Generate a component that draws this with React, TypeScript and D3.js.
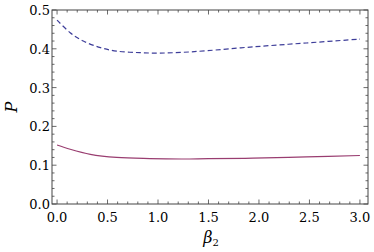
import React from 'react';
import * as d3 from 'd3';

// data
const beta = [0, 0.13, 0.26, 0.43, 0.59, 0.82, 1.02, 1.25, 1.48, 1.94, 2.47, 3.0];
const dashedP = [0.474, 0.4415, 0.42, 0.403, 0.394, 0.39, 0.389, 0.391, 0.395, 0.405, 0.415, 0.425];
const solidBeta = [0, 0.13, 0.33, 0.59, 0.92, 1.25, 1.5, 1.94, 2.47, 3.0];
const solidP = [0.152, 0.141, 0.128, 0.12, 0.117, 0.116, 0.117, 0.118, 0.1212, 0.125];

const xTicks = [0, 0.5, 1, 1.5, 2, 2.5, 3];
const yTicks = [0, 0.1, 0.2, 0.3, 0.4, 0.5];

// Liberation Serif did not resolve in the sandbox, DejaVu Serif does
const serif = 'DejaVu Serif, serif';

const App = () => {
  const width = 374;
  const height = 252;
  // frame box
  const left = 52;
  const right = 368;
  const top = 10;
  const bottom = 204;

  const x = d3.scaleLinear().domain([-0.05, 3.08]).range([left, right]);
  const y = d3.scaleLinear().domain([0, 0.5]).range([bottom, top]);

  const line = d3
    .line<[number, number]>()
    .x((d) => x(d[0]))
    .y((d) => y(d[1]))
    .curve(d3.curveCatmullRom.alpha(0.5));

  const dashedPts = beta.map((b, i) => [b, dashedP[i]] as [number, number]);
  const solidPts = solidBeta.map((b, i) => [b, solidP[i]] as [number, number]);

  // minor ticks
  const xMinor = d3.range(0, 31).map((i) => i / 10).filter((v) => Math.round(v * 10) % 5 !== 0);
  const yMinor = d3.range(0, 26).map((i) => i / 50).filter((v) => Math.round(v * 50) % 5 !== 0);

  const major = 4.5;
  const minor = 2.5;
  const tickColor = '#444';

  return (
    <svg
      width={width}
      height={height}
      fontFamily={serif}
      style={{ position: 'absolute', left: 0, top: 0 }}
    >
      <rect x={0} y={0} width={width} height={height} fill="#fff" />

      {/* ticks on all sides, pointing in */}
      <g stroke={tickColor} strokeWidth={0.8}>
        {xTicks.map((t) => (
          <g key={'xt' + t}>
            <line x1={x(t)} x2={x(t)} y1={bottom} y2={bottom - major} />
            <line x1={x(t)} x2={x(t)} y1={top} y2={top + major} />
          </g>
        ))}
        {xMinor.map((t) => (
          <g key={'xm' + t}>
            <line x1={x(t)} x2={x(t)} y1={bottom} y2={bottom - minor} />
            <line x1={x(t)} x2={x(t)} y1={top} y2={top + minor} />
          </g>
        ))}
        {yTicks.map((t) => (
          <g key={'yt' + t}>
            <line x1={left} x2={left + major} y1={y(t)} y2={y(t)} />
            <line x1={right} x2={right - major} y1={y(t)} y2={y(t)} />
          </g>
        ))}
        {yMinor.map((t) => (
          <g key={'ym' + t}>
            <line x1={left} x2={left + minor} y1={y(t)} y2={y(t)} />
            <line x1={right} x2={right - minor} y1={y(t)} y2={y(t)} />
          </g>
        ))}
      </g>

      <rect
        x={left}
        y={top}
        width={right - left}
        height={bottom - top}
        fill="none"
        stroke={tickColor}
        strokeWidth={1}
      />

      <path d={line(solidPts) || ''} fill="none" stroke="#993d70" strokeWidth={1.2} />
      <path
        d={line(dashedPts) || ''}
        fill="none"
        stroke="#3d3d99"
        strokeWidth={1.2}
        strokeDasharray="5,3"
      />

      {/* tick labels */}
      <g fontFamily={serif} fontSize={13} fill="#000">
        {xTicks.map((t) => (
          <text key={'xl' + t} x={x(t)} y={bottom + 18} textAnchor="middle">
            {t.toFixed(1)}
          </text>
        ))}
        {yTicks.map((t) => (
          <text key={'yl' + t} x={left - 2} y={y(t) + 5} textAnchor="end">
            {t.toFixed(1)}
          </text>
        ))}
      </g>

      {/* axis labels */}
      <text x={211} y={243} fontFamily={serif} fontSize={16} fontStyle="italic" textAnchor="middle">
        β<tspan fontStyle="normal" fontSize={10} dy={3}>2</tspan>
      </text>
      <text
        transform={'translate(17,' + (top + bottom) / 2 + ') rotate(-90)'}
        fontFamily={serif}
        fontSize={16}
        fontStyle="italic"
        textAnchor="middle"
      >
        P
      </text>
    </svg>
  );
};

export default App;
